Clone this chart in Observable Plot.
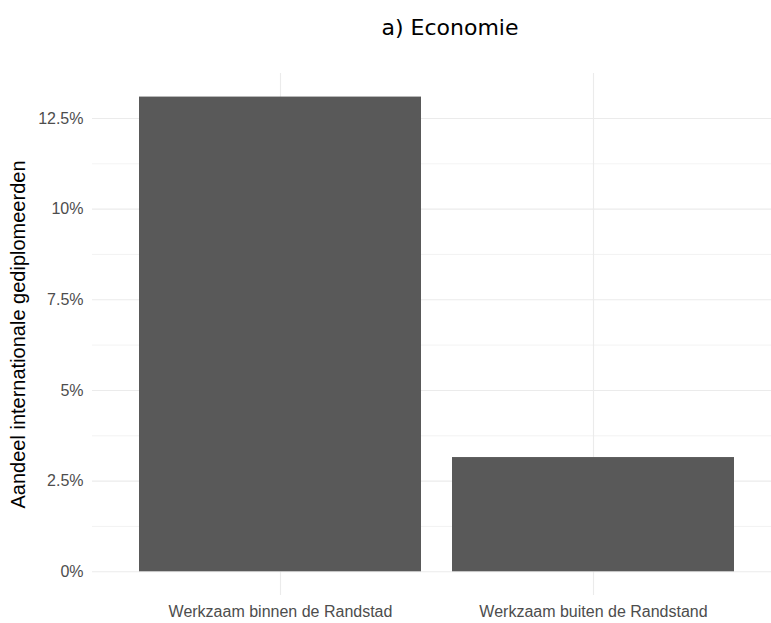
<!DOCTYPE html>
<html>
<head>
<meta charset="utf-8">
<script src="https://cdn.jsdelivr.net/npm/d3@7"></script>
<script src="https://cdn.jsdelivr.net/npm/@observablehq/plot@0.6"></script>
<style>
  html, body { margin: 0; padding: 0; background: #fff; }
  #wrap { position: relative; width: 771px; height: 623px; }
  #title { position: absolute; left: 250px; width: 400px; top: 17px; text-align: center; line-height: 1;
           font-family: "DejaVu Sans", sans-serif; font-size: 22px; color: #000; }
  svg { display: block; }
</style>
</head>
<body>
<div id="wrap"><div id="title">a) Economie</div><div id="chart"></div></div>
<script>
const categories = ["Werkzaam binnen de Randstad", "Werkzaam buiten de Randstand"];
const shares = [13.09, 3.15];
const yTicks = [0, 2.5, 5, 7.5, 10, 12.5];
const yMinorTicks = [1.25, 3.75, 6.25, 8.75, 11.25];
const yLabel = "Aandeel internationale gediplomeerden";

const data = categories.map((c, i) => ({category: c, share: shares[i]}));

const chart = Plot.plot({
  width: 771,
  height: 623,
  marginTop: 73,
  marginBottom: 28,
  marginLeft: 92,
  marginRight: 0,
  style: {fontFamily: "'Liberation Sans', Arial, sans-serif", background: "#fff", fontSize: "16px"},
  x: {domain: categories, range: [92, 780], paddingInner: 0.1, paddingOuter: 0.149, align: 0.5, axis: null},
  y: {domain: [-0.654, 13.74], range: [595, 73], axis: null},
  marks: [
    Plot.ruleY(yMinorTicks, {stroke: "#ebebeb", strokeWidth: 0.6}),
    Plot.ruleY(yTicks, {stroke: "#ebebeb", strokeWidth: 1.1}),
    Plot.ruleX(categories, {x: d => d, stroke: "#ebebeb", strokeWidth: 1.1}),
    Plot.barY(data, {x: "category", y: "share", fill: "#595959"}),
    Plot.axisY(yTicks, {tickSize: 0, tickPadding: 9, fontSize: 16, fill: "#4d4d4d", tickFormat: d => d + "%", label: null}),
    Plot.axisX(categories, {tickSize: 0, tickPadding: 10, fontSize: 16, fill: "#4d4d4d", label: null}),
    Plot.text([yLabel], {frameAnchor: "left", dx: -74, rotate: -90, textAnchor: "middle", fontSize: 20, fill: "#000", text: d => d})
  ]
});
document.getElementById("chart").appendChild(chart);
</script>
</body>
</html>
